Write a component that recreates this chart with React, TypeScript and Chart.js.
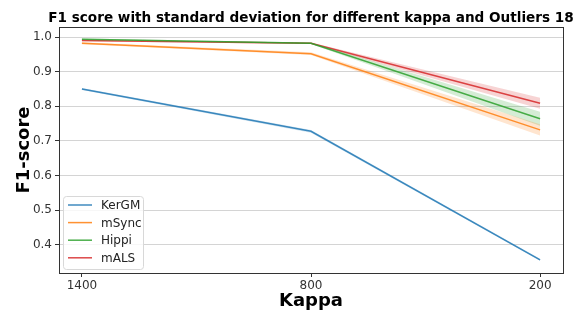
import React, { useEffect, useRef } from "react";
import { Chart, registerables } from "chart.js";

Chart.register(...registerables);

const kappa = [1400, 800, 200];
const seriesNames = ["KerGM", "mSync", "Hippi", "mALS"];
const colors = ["#1f77b4", "#ff7f0e", "#2ca02c", "#d62728"];
const kergm = [0.85, 0.728, 0.357];
const msync = [0.982, 0.952, 0.732];
const hippi = [0.994, 0.982, 0.764];
const mals = [0.99, 0.982, 0.809];
const kergmStd = [0.003, 0.004, 0.003];
const msyncStd = [0.003, 0.004, 0.016];
const hippiStd = [0.002, 0.002, 0.02];
const malsStd = [0.002, 0.002, 0.016];
const xTicks = [1400, 800, 200];
const yTicks = [0.4, 0.5, 0.6, 0.7, 0.8, 0.9, 1.0];

const means = [kergm, msync, hippi, mals];
const stds = [kergmStd, msyncStd, hippiStd, malsStd];

function hexA(hex: string, a: number) {
  const r = parseInt(hex.slice(1, 3), 16);
  const g = parseInt(hex.slice(3, 5), 16);
  const b = parseInt(hex.slice(5, 7), 16);
  return `rgba(${r},${g},${b},${a})`;
}

const FONT = "'DejaVu Sans', sans-serif";

export default function App() {
  const ref = useRef<HTMLCanvasElement>(null);
  useEffect(() => {
    document.body.style.margin = "0";
    const datasets: any[] = [];
    means.forEach((m, i) => {
      const s = stds[i];
      datasets.push({
        label: "_lo" + i,
        data: kappa.map((k, j) => ({ x: k, y: m[j] - s[j] })),
        borderWidth: 0,
        pointRadius: 0,
        fill: false,
        borderColor: "rgba(0,0,0,0)",
      });
      datasets.push({
        label: "_hi" + i,
        data: kappa.map((k, j) => ({ x: k, y: m[j] + s[j] })),
        borderWidth: 0,
        pointRadius: 0,
        fill: "-1",
        backgroundColor: hexA(colors[i], 0.2),
        borderColor: "rgba(0,0,0,0)",
      });
      datasets.push({
        label: seriesNames[i],
        data: kappa.map((k, j) => ({ x: k, y: m[j] })),
        borderColor: hexA(colors[i], 0.85),
        borderWidth: 1.5,
        pointRadius: 0,
        fill: false,
      });
    });

    const deco = {
      id: "deco",
      afterDraw(chart: any) {
        const ctx = chart.ctx;
        const a = chart.chartArea;
        ctx.save();
        ctx.strokeStyle = "#333";
        ctx.lineWidth = 1;
        ctx.strokeRect(Math.round(a.left) + 0.5, Math.round(a.top) + 0.5, Math.round(a.right - a.left), Math.round(a.bottom - a.top));
        ctx.fillStyle = "#000";
        ctx.textAlign = "center";
        ctx.textBaseline = "middle";
        ctx.font = `bold 13.6px ${FONT}`;
        ctx.fillText("F1 score with standard deviation for different kappa and Outliers 18", (a.left + a.right) / 2, 18);
        ctx.font = `bold 18px ${FONT}`;
        ctx.fillText("Kappa", (a.left + a.right) / 2, 301);
        ctx.save();
        ctx.translate(24, (a.top + a.bottom) / 2);
        ctx.rotate(-Math.PI / 2);
        ctx.fillText("F1-score", 0, 0);
        ctx.restore();
        // legend
        const bx = 63.5, by = 196.5, bw = 80, bh = 73;
        ctx.fillStyle = "rgba(255,255,255,0.8)";
        ctx.strokeStyle = "#d8d8d8";
        ctx.beginPath();
        ctx.roundRect(bx, by, bw, bh, 3);
        ctx.fill();
        ctx.stroke();
        ctx.font = `12px ${FONT}`;
        ctx.textAlign = "left";
        seriesNames.forEach((n, i) => {
          const y = 205 + i * 17.6;
          ctx.strokeStyle = hexA(colors[i], 0.85);
          ctx.lineWidth = 1.5;
          ctx.beginPath();
          ctx.moveTo(68, y);
          ctx.lineTo(92, y);
          ctx.stroke();
          ctx.fillStyle = "#222";
          ctx.fillText(n, 101, y + 1);
        });
        ctx.restore();
      },
    };

    const chart = new Chart(ref.current!, {
      type: "line",
      data: { datasets },
      options: {
        animation: false,
        responsive: false,
        layout: { padding: { top: 27, right: 24, left: 0, bottom: 0 } },
        plugins: {
          legend: { display: false },
          tooltip: { enabled: false },
          filler: { propagate: false },
        },
        scales: {
          x: {
            type: "linear",
            reverse: true,
            min: 140,
            max: 1460,
            afterBuildTicks: (s: any) => {
              s.ticks = xTicks.map((v) => ({ value: v }));
            },
            afterFit: (s: any) => {
              s.height = 39;
            },
            grid: { drawOnChartArea: false, tickLength: 4, tickColor: "#333" },
            border: { display: false },
            ticks: {
              font: { family: FONT, size: 12 },
              color: "#333",
              padding: 2,
              maxRotation: 0,
              callback: (v: any) => String(v),
            },
          },
          y: {
            type: "linear",
            min: 0.319,
            max: 1.029,
            afterBuildTicks: (s: any) => {
              s.ticks = yTicks.map((v) => ({ value: v }));
            },
            afterFit: (s: any) => {
              s.width = 59;
            },
            grid: { color: "#d4d4d4", tickLength: 4, tickColor: "#333" },
            border: { display: false },
            ticks: {
              font: { family: FONT, size: 12 },
              color: "#333",
              padding: 3,
              callback: (v: any) => Number(v).toFixed(1),
            },
          },
        },
      },
      plugins: [deco],
    });
    return () => chart.destroy();
  }, []);
  return (
    <div style={{ position: "absolute", left: 0, top: 0, width: 587, height: 312 }}>
      <canvas ref={ref} width={587} height={312} style={{ width: 587, height: 312 }} />
    </div>
  );
}
